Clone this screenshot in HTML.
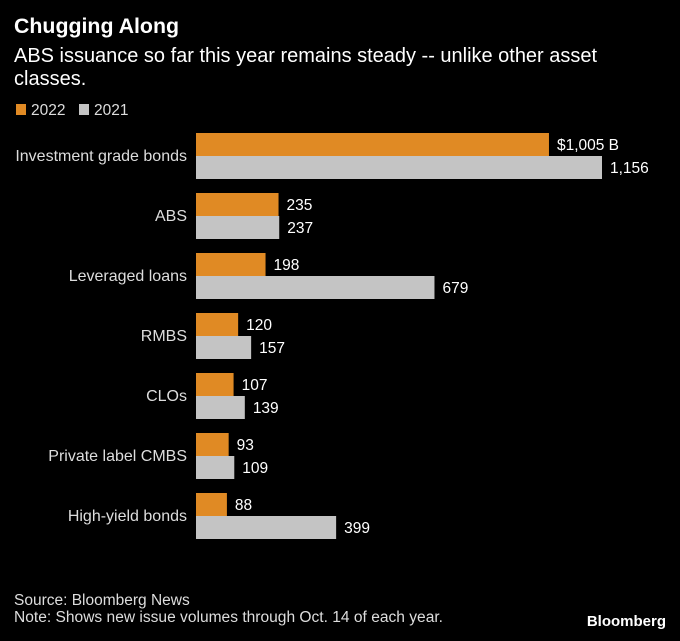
<!DOCTYPE html>
<html><head><meta charset="utf-8"><style>
body{margin:0;background:#000;width:680px;height:636px;overflow:hidden;font-family:"Liberation Sans",sans-serif;color:#fff}
svg text{font-family:"Liberation Sans",sans-serif}
</style></head><body>
<svg width="680" height="636">
<text x="14" y="33" font-size="21" font-weight="bold" fill="#fff" textLength="165" lengthAdjust="spacingAndGlyphs">Chugging Along</text>
<text x="14" y="62" font-size="20" fill="#fff" textLength="583" lengthAdjust="spacingAndGlyphs">ABS issuance so far this year remains steady -- unlike other asset</text>
<text x="14" y="85" font-size="20" fill="#fff">classes.</text>
<g>
<rect x="16" y="104" width="10" height="11" fill="#e08a24"/>
<text x="31" y="115" font-size="15.5" fill="#ddd">2022</text>
<rect x="79" y="104" width="10" height="11" fill="#c4c4c4"/>
<text x="94" y="115" font-size="15.5" fill="#ddd">2021</text>
</g>
<g id="bars"></g>
<text x="14" y="605" font-size="15.5" fill="#ddd">Source: Bloomberg News</text>
<text x="14" y="622" font-size="15.5" fill="#ddd" textLength="429" lengthAdjust="spacingAndGlyphs">Note: Shows new issue volumes through Oct. 14 of each year.</text>
<text x="666" y="626" font-size="15" font-weight="bold" fill="#fff" text-anchor="end">Bloomberg</text>
</svg>
<script>
const categories=["Investment grade bonds","ABS","Leveraged loans","RMBS","CLOs","Private label CMBS","High-yield bonds"];
const values2022=[1005,235,198,120,107,93,88];
const values2021=[1156,237,679,157,139,109,399];
const labels2022=["$1,005 B","235","198","120","107","93","88"];
const labels2021=["1,156","237","679","157","139","109","399"];
const x0=196,scale=406/1156,top0=133,step=60,bh=23;
const xs=v=>v*scale;
const g=document.getElementById('bars');
const NS="http://www.w3.org/2000/svg";
function mk(t,a){const e=document.createElementNS(NS,t);for(const k in a)e.setAttribute(k,a[k]);g.appendChild(e);return e;}
categories.forEach((c,i)=>{
  const y=top0+i*step;
  const l=mk('text',{x:187,y:y+bh+5,'font-size':16,fill:'#ddd','text-anchor':'end'});l.textContent=c;
  
  
  const b1=mk('rect',{x:x0,y:y,width:xs(values2022[i]),height:bh,fill:'#e08a24'});
  
  
  const b2=mk('rect',{x:x0,y:y+bh,width:xs(values2021[i]),height:bh,fill:'#c4c4c4'});
  
  
  const t1=mk('text',{x:x0+xs(values2022[i])+8,y:y+17,'font-size':15.5,fill:'#fff'});t1.textContent=labels2022[i];
  
  
  const t2=mk('text',{x:x0+xs(values2021[i])+8,y:y+bh+17,'font-size':15.5,fill:'#fff'});t2.textContent=labels2021[i];
  
  
});
</script>
</body></html>
